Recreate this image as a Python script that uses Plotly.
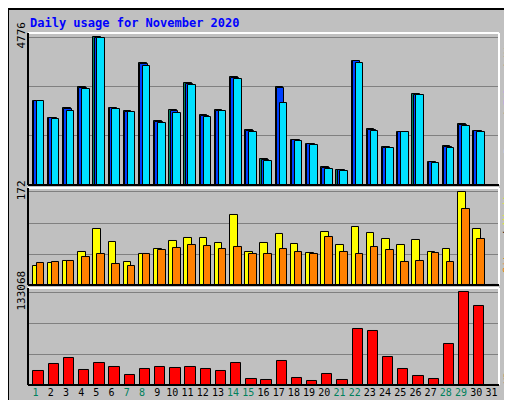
import plotly.graph_objects as go

days = list(range(1, 32))
hits = [2711,2162,2485,3162,4776,2485,2388,3937,2065,2420,3291,2259,2420,3485,1775,839,
        3162,1452,1323,581,484,4001,1807,1226,1710,2937,742,1259,1969,1743,0]
files = [2700,2150,2460,3130,4760,2470,2370,3900,2030,2390,3260,2240,2400,3440,1740,810,
         3130,1440,1310,560,470,3990,1790,1200,1700,2920,730,1240,1950,1730,0]
pages = [2700,2130,2390,3100,4750,2440,2350,3840,1990,2330,3230,2200,2390,3420,1710,790,
         2660,1420,1280,530,450,3940,1760,1190,1700,2900,710,1210,1920,1710,0]
visits = [36,41.6,45.3,60.2,103,78.9,43.5,56.5,65.8,80.7,86.3,86.3,77,129,62,77,
          93.8,75.1,58.4,97.5,73.3,106.8,95.6,84.4,73.3,82.6,62,65.8,172,103,0]
sites = [41.6,43.5,45.3,51,56.5,39.7,36,56.5,64,67.7,73.3,71.4,65.8,69.5,56.5,56.5,
         65.8,60.2,56.5,88.2,60.2,56.5,69.5,64,43.5,45.3,58.4,43.5,140.3,84.4,0]
kbytes = [19426,29624,38366,20883,31081,25254,15055,22340,25254,23797,25254,22340,19426,31081,
          9227,7770,33995,10684,6313,16512,7770,80617,77703,39823,22340,13598,9227,58763,133068,114128,0]
weekend = {1,7,8,14,15,21,22,28,29}
ticktext = [f"<span style='color:#00805c'>{d}</span>" if d in weekend else str(d) for d in days]

MONO = "DejaVu Sans Mono"
fig = go.Figure()
line = dict(color="black", width=1)
def bar(y, color, off, w, ax):
    fig.add_trace(go.Bar(x=days, y=y, marker=dict(color=color, line=line),
                         offset=off, width=w, xaxis="x", yaxis=ax, showlegend=False))
bar(hits, "#008060", -0.2, 0.5, "y3")
bar(files, "#0040ff", -0.12, 0.5, "y3")
bar(pages, "#00e0ff", 0.06, 0.5, "y3")
bar(visits, "#ffff00", -0.2, 0.5, "y2")
bar(sites, "#ff8000", 0.06, 0.5, "y2")
bar(kbytes, "#ff0000", -0.14, 0.68, "y")

def yax(dom, mx, top, anchor):
    return dict(domain=dom, range=[0, top], tickvals=[mx/3, 2*mx/3, mx],
                ticktext=["", "", str(mx)], tickangle=-90, showgrid=True, automargin=False,
                gridcolor="#808080", gridwidth=1, zeroline=False, anchor=anchor,
                tickfont=dict(family=MONO, size=11, color="black"), ticks="", fixedrange=True)

fig.update_layout(
    width=512, height=400, margin=dict(l=20, r=21, t=25, b=23),
    paper_bgcolor="#c0c0c0", plot_bgcolor="#c0c0c0", barmode="overlay", bargap=0,
    xaxis=dict(range=[0.5, 31.5], tickvals=days, ticktext=ticktext, showgrid=False,
               tickangle=0, automargin=False,
               tickfont=dict(family=MONO, size=10, color="black"), ticks="", anchor="y"),
    yaxis=yax([0, 0.2756], 133068, 139250, "x"),
    yaxis2=yax([0.284, 0.5597], 172, 179.4, "x"),
    yaxis3=yax([0.568, 1], 4776, 4905, "x"),
)
shapes = []
for y0, y1 in [(0, 0.2756), (0.284, 0.5597), (0.568, 1)]:
    shapes.append(dict(type="line", xref="paper", yref="paper", x0=0, x1=1, y0=y1, y1=y1, line=dict(color="white", width=2)))
    shapes.append(dict(type="line", xref="paper", yref="paper", x0=1, x1=1, y0=y0, y1=y1, line=dict(color="white", width=2)))
    shapes.append(dict(type="line", xref="paper", yref="paper", x0=0, x1=0, y0=y0, y1=y1, line=dict(color="black", width=2)))
    shapes.append(dict(type="line", xref="paper", yref="paper", x0=0, x1=1, y0=y0, y1=y0, line=dict(color="black", width=2)))
shapes.append(dict(type="rect", xref="paper", yref="paper", x0=-20/471, x1=490/471, y0=-22/352, y1=1+24/352,
                   line=dict(color="black", width=2)))
shapes.append(dict(type="line", xref="paper", yref="paper", x0=488/471, x1=488/471, y0=-19/352, y1=1+21/352,
                   line=dict(color="#808080", width=4)))
shapes.append(dict(type="line", xref="paper", yref="paper", x0=-18/471, x1=488/471, y0=-19/352, y1=-19/352,
                   line=dict(color="#808080", width=4)))
fig.update_layout(shapes=shapes)

ann = [
    dict(text="<b>Daily usage for November 2020</b>", x=0, y=1+10/352, xref="paper", yref="paper",
         xanchor="left", yanchor="middle", showarrow=False, font=dict(family=MONO, size=12, color="#0000ff")),
    dict(text="<span style='color:#00e0ff'>Pages</span> / <span style='color:#0040ff'>Files</span> / <span style='color:#008060'>Hits</span>",
         x=1+9/471, y=1, xref="paper", yref="paper", xanchor="center", yanchor="top", textangle=-90,
         showarrow=False, font=dict(family=MONO, size=10, color="black"), borderpad=0),
    dict(text="<span style='color:#ff8000'>Sites</span> / <span style='color:#ffff00'>Visits</span>",
         x=1+9/471, y=0.5597, xref="paper", yref="paper", xanchor="center", yanchor="top", textangle=-90,
         showarrow=False, font=dict(family=MONO, size=10, color="black"), borderpad=0),
    dict(text="<span style='color:#ff0000'>KBytes</span>",
         x=1+9/471, y=0, xref="paper", yref="paper", xanchor="center", yanchor="bottom", textangle=-90,
         showarrow=False, font=dict(family=MONO, size=10, color="black"), borderpad=0),
]
fig.update_layout(annotations=ann)
fig.write_html("out.html")
